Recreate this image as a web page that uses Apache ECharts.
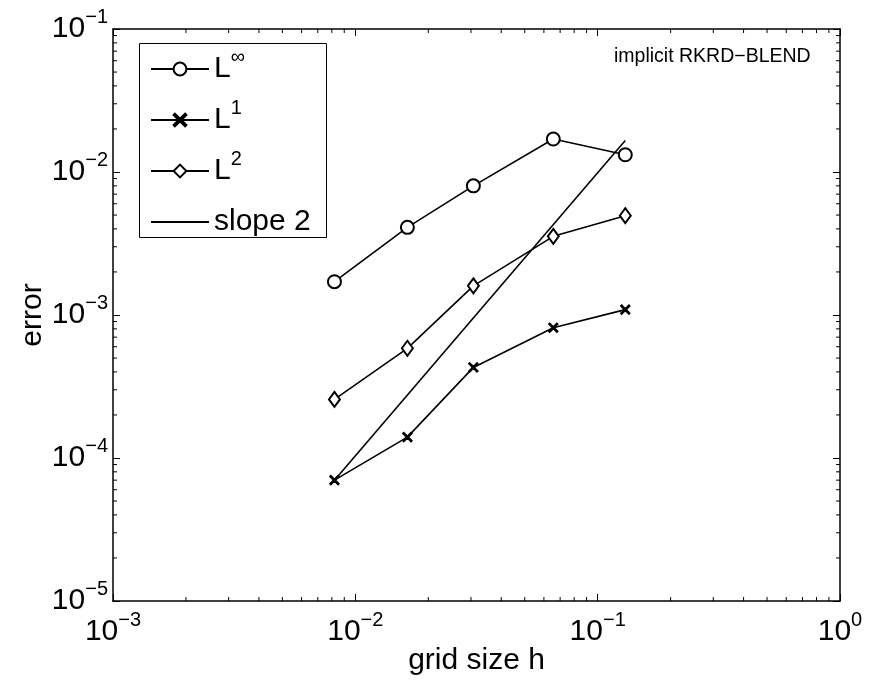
<!DOCTYPE html>
<html>
<head>
<meta charset="utf-8">
<script src="https://cdn.jsdelivr.net/npm/echarts@6/dist/echarts.min.js"></script>
<style>html,body{margin:0;padding:0;background:#fff}#c{width:876px;height:682px}</style>
</head>
<body>
<div id="c"></div>
<script>
// ---- data ----
var gridSize = [0.0082, 0.0164, 0.0307, 0.0656, 0.13];
var errLinf = [1.71e-3, 4.1e-3, 8.0e-3, 1.70e-2, 1.32e-2];
var errL1 = [7.0e-5, 1.40e-4, 4.3e-4, 8.15e-4, 1.09e-3];
var errL2 = [2.57e-4, 5.85e-4, 1.60e-3, 3.55e-3, 4.95e-3];
var slopeX = [0.0082, 0.13];
var slopeY = [7.0e-5, 1.66e-2];
var seriesNames = ['Linf', 'L1', 'L2', 'slope 2'];
var legendLabels = ['{n|L}{s|∞}', '{n|L}{s|1}', '{n|L}{s|2}', '{n|slope 2}{s|\u200b}'];
var xTickExp = { '-3': '−3', '-2': '−2', '-1': '−1', '0': '0' };
var yTickExp = { '-5': '−5', '-4': '−4', '-3': '−3', '-2': '−2', '-1': '−1' };
var xMinorTicks = [0.002,0.003,0.004,0.005,0.006,0.007,0.008,0.009,0.02,0.03,0.04,0.05,0.06,0.07,0.08,0.09,0.2,0.3,0.4,0.5,0.6,0.7,0.8,0.9];
var yMinorTicks = [2e-5,3e-5,4e-5,5e-5,6e-5,7e-5,8e-5,9e-5,2e-4,3e-4,4e-4,5e-4,6e-4,7e-4,8e-4,9e-4,2e-3,3e-3,4e-3,5e-3,6e-3,7e-3,8e-3,9e-3,2e-2,3e-2,4e-2,5e-2,6e-2,7e-2,8e-2,9e-2];
var annotation = 'implicit RKRD−BLEND';
var xName = 'grid size h';
var yName = 'error';

// ---- chart ----
var FONT = 'Liberation Sans, Arial, Helvetica, sans-serif';
var X_MIN = 1e-3, X_MAX = 1, Y_MIN = 1e-5, Y_MAX = 1e-1;
function zip(a, b) { return a.map(function (v, i) { return [v, b[i]]; }); }
function expOf(v) { return String(Math.round(Math.log(v) / Math.LN10)); }
var crossPath = 'path://M1,0L5,4L9,0L10,1L6,5L10,9L9,10L5,6L1,10L0,9L4,5L0,1Z';
var labelRich = {
  b: { fontSize: 30, fontFamily: FONT, color: '#000', lineHeight: 44 },
  s: { fontSize: 20, fontFamily: FONT, color: '#000', lineHeight: 20, padding: [0, 0, 24, 0] }
};
var tickStyle = { show: true, inside: true, length: 7, lineStyle: { color: '#000', width: 1 } };
var axisLine = { show: true, lineStyle: { color: '#000', width: 1.5 } };
function lineSeries(name, data, symbol, size) {
  return {
    name: name, type: 'line', data: data, symbol: symbol, symbolSize: size,
    xAxisIndex: 0, yAxisIndex: 0,
    lineStyle: { color: '#000', width: 1.6 },
    itemStyle: { color: '#000', borderColor: '#000', borderWidth: 1.5 },
    emphasis: { disabled: true }, animation: false, z: 3
  };
}
var minorData = xMinorTicks.map(function (v) { return [v, Y_MIN, 0]; })
  .concat(yMinorTicks.map(function (v) { return [X_MIN, v, 1]; }));
var chart = echarts.init(document.getElementById('c'), null, { renderer: 'canvas' });
chart.setOption({
  backgroundColor: '#fff',
  animation: false,
  title: {
    text: annotation, left: 614, top: 47, padding: 0,
    textStyle: { fontSize: 19.5, fontWeight: 'normal', fontFamily: FONT, color: '#000' }
  },
  graphic: [{
    type: 'rect', shape: { x: 139.5, y: 43.5, width: 187, height: 194 },
    style: { fill: '#fff', stroke: '#000', lineWidth: 1 }, z: 4, silent: true
  }],
  grid: { left: 113, right: 36, top: 29, bottom: 81, outerBoundsMode: 'none', containLabel: false },
  legend: {
    data: [
      { name: 'Linf' }, { name: 'L1' }, { name: 'L2' },
      { name: 'slope 2', itemStyle: { opacity: 0, color: 'rgba(0,0,0,0)', borderWidth: 0 } }
    ],
    orient: 'vertical', left: 150, top: 47, z: 10,
    padding: 0, itemGap: 7, itemWidth: 58, itemHeight: 16,
    selectedMode: false,
    formatter: function (name) { return legendLabels[seriesNames.indexOf(name)]; },
    textStyle: { rich: {
      n: { fontSize: 30, fontFamily: FONT, color: '#000', lineHeight: 44 },
      s: { fontSize: 20, fontFamily: FONT, color: '#000', lineHeight: 20, padding: [0, 0, 24, 0] }
    } }
  },
  xAxis: [{
    type: 'log', min: X_MIN, max: X_MAX, position: 'bottom',
    name: xName, nameLocation: 'middle', nameGap: 45, nameMoveOverlap: false,
    nameTextStyle: { fontSize: 30, fontFamily: FONT, color: '#000' },
    axisLine: axisLine, axisTick: tickStyle, splitLine: { show: false },
    axisLabel: {
      margin: 9, showMinLabel: true, showMaxLabel: true,
      formatter: function (v) { return '{b|10}{s|' + xTickExp[expOf(v)] + '}'; },
      rich: labelRich
    }
  }, {
    type: 'log', min: X_MIN, max: X_MAX, position: 'top',
    axisLine: axisLine, axisTick: tickStyle, splitLine: { show: false }, axisLabel: { show: false }
  }],
  yAxis: [{
    type: 'log', min: Y_MIN, max: Y_MAX, position: 'left',
    name: yName, nameLocation: 'middle', nameGap: 65, nameMoveOverlap: false,
    nameTextStyle: { fontSize: 30, fontFamily: FONT, color: '#000' },
    axisLine: axisLine, axisTick: tickStyle, splitLine: { show: false },
    axisLabel: {
      margin: 5, showMinLabel: true, showMaxLabel: true,
      formatter: function (v) { return '{b|10}{s|' + yTickExp[expOf(v)] + '}'; },
      rich: labelRich
    }
  }, {
    type: 'log', min: Y_MIN, max: Y_MAX, position: 'right',
    axisLine: axisLine, axisTick: tickStyle, splitLine: { show: false }, axisLabel: { show: false }
  }],
  series: [
    lineSeries('Linf', zip(gridSize, errLinf), 'emptyCircle', 13),
    lineSeries('L1', zip(gridSize, errL1), crossPath, 9),
    lineSeries('L2', zip(gridSize, errL2), 'emptyDiamond', [11, 15]),
    lineSeries('slope 2', zip(slopeX, slopeY), 'none', 0),
    {
      type: 'custom', name: 'minorTicks', xAxisIndex: 0, yAxisIndex: 0, silent: true, z: 2,
      data: minorData,
      renderItem: function (params, api) {
        var L = 4, st = { stroke: '#000', lineWidth: 1 };
        if (api.value(2) === 0) {
          var b = api.coord([api.value(0), Y_MIN]);
          var t = api.coord([api.value(0), Y_MAX]);
          return { type: 'group', children: [
            { type: 'line', shape: { x1: b[0], y1: b[1], x2: b[0], y2: b[1] - L }, style: st },
            { type: 'line', shape: { x1: t[0], y1: t[1], x2: t[0], y2: t[1] + L }, style: st }
          ] };
        }
        var l = api.coord([X_MIN, api.value(1)]);
        var r = api.coord([X_MAX, api.value(1)]);
        return { type: 'group', children: [
          { type: 'line', shape: { x1: l[0], y1: l[1], x2: l[0] + L, y2: l[1] }, style: st },
          { type: 'line', shape: { x1: r[0], y1: r[1], x2: r[0] - L, y2: r[1] }, style: st }
        ] };
      }
    }
  ]
});
</script>
</body>
</html>
